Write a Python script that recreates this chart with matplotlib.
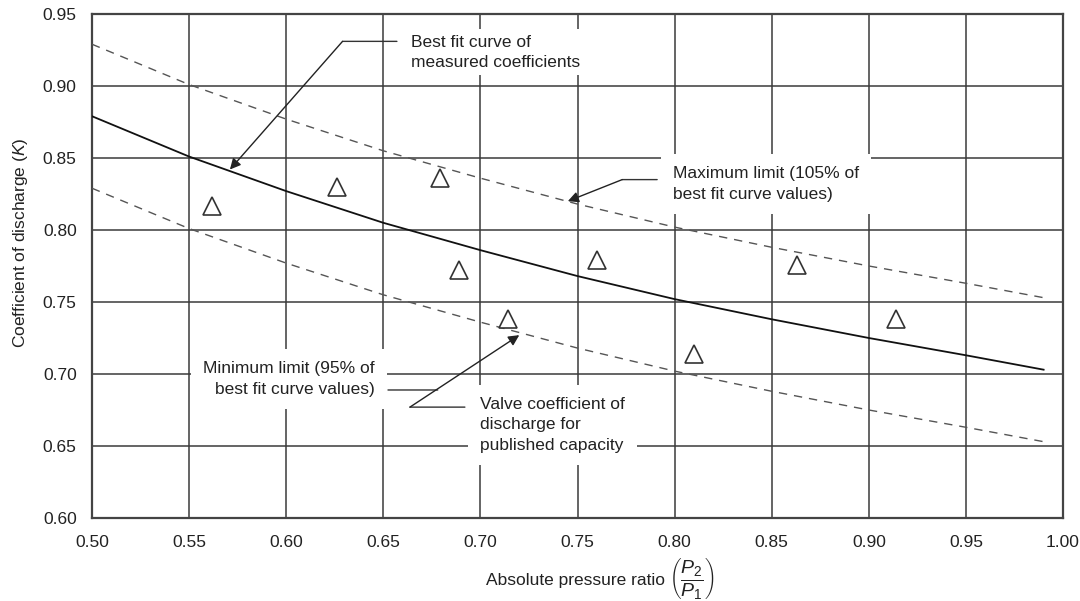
import matplotlib
matplotlib.use("Agg")
import matplotlib.pyplot as plt

plt.rcParams['font.family'] = ['Liberation Sans', 'DejaVu Sans']
plt.rcParams['mathtext.fontset'] = 'custom'
plt.rcParams['mathtext.rm'] = 'Liberation Sans'
plt.rcParams['mathtext.it'] = 'Liberation Sans:italic'

# ---- data ----
curve_x = [0.50, 0.55, 0.60, 0.65, 0.70, 0.75, 0.80, 0.85, 0.90, 0.95, 0.99]
best_fit = [0.879, 0.851, 0.827, 0.805, 0.786, 0.768, 0.752, 0.738, 0.725, 0.713, 0.703]
upper_limit = [0.929, 0.901, 0.877, 0.855, 0.836, 0.818, 0.802, 0.788, 0.775, 0.763, 0.753]
lower_limit = [0.829, 0.801, 0.777, 0.755, 0.736, 0.718, 0.702, 0.688, 0.675, 0.663, 0.653]

meas_x = [0.562, 0.626, 0.679, 0.689, 0.714, 0.760, 0.810, 0.863, 0.914]
meas_k = [0.817, 0.830, 0.836, 0.772, 0.738, 0.779, 0.714, 0.776, 0.738]

x_ticks = [0.50, 0.55, 0.60, 0.65, 0.70, 0.75, 0.80, 0.85, 0.90, 0.95, 1.00]
y_ticks = [0.60, 0.65, 0.70, 0.75, 0.80, 0.85, 0.90, 0.95]

GRID = '#3a3a3a'
TXT = '#222222'
fig = plt.figure(figsize=(10.8, 6.01), dpi=100)
ax = fig.add_axes([0.0852, 0.1381, 0.8991, 0.8386])
ax.set_xlim(0.50, 1.00)
ax.set_ylim(0.60, 0.95)
ax.set_xticks(x_ticks)
ax.set_yticks(y_ticks)
ax.set_xticklabels([f"{v:.2f}" for v in x_ticks])
ax.set_yticklabels([f"{v:.2f}" for v in y_ticks])
ax.tick_params(length=0, labelsize=12.5, colors=TXT, pad=11)
ax.tick_params(axis='x', pad=12)
ax.grid(True, color=GRID, lw=1.1, zorder=0)
ax.set_axisbelow(True)
for s in ax.spines.values():
    s.set_color('#444444')
    s.set_linewidth(1.6)

ax.plot(curve_x, best_fit, color='#111111', lw=1.3, zorder=3)
ax.plot(curve_x, upper_limit, color='#555555', lw=1.0, dashes=(6, 5), zorder=3)
ax.plot(curve_x, lower_limit, color='#555555', lw=1.0, dashes=(6, 5), zorder=3)
ax.plot(meas_x, meas_k, ls='none', marker='^', ms=12.5, mfc='white',
        mec='#333333', mew=1.2, zorder=4)

txt_kw = dict(fontsize=12.5, color=TXT, linespacing=1.45, zorder=2,
              bbox=dict(boxstyle='square,pad=0.7', fc='white', ec='none'))
line_kw = dict(arrowstyle='-', color='#333333', lw=1.0, shrinkA=0, shrinkB=0)
arr_kw = dict(arrowstyle='-|>', color='#222222', lw=1.0, mutation_scale=16,
              shrinkA=0, shrinkB=0)

# Best fit annotation
ax.text(0.664, 0.9234, "Best fit curve of\nmeasured coefficients", va='center',
        ha='left', **{**txt_kw, 'bbox': dict(boxstyle='square,pad=0.3', fc='white', ec='none')})
ax.annotate('', xy=(0.657, 0.931), xytext=(0.629, 0.931), arrowprops=line_kw, zorder=5)
ax.annotate('', xy=(0.571, 0.842), xytext=(0.629, 0.931), arrowprops=arr_kw, zorder=5)

# Maximum limit
ax.text(0.799, 0.832, "Maximum limit (105% of\nbest fit curve values)", va='center',
        ha='left', **txt_kw)
ax.annotate('', xy=(0.791, 0.835), xytext=(0.773, 0.835), arrowprops=line_kw, zorder=5)
ax.annotate('', xy=(0.745, 0.820), xytext=(0.773, 0.835), arrowprops=arr_kw, zorder=5)

# Minimum limit
ax.text(0.6457, 0.6965, "Minimum limit (95% of\nbest fit curve values)", va='center',
        ha='right', **txt_kw)
ax.annotate('', xy=(0.678, 0.6889), xytext=(0.6524, 0.6889), arrowprops=line_kw, zorder=5)

# Valve coefficient
ax.text(0.700, 0.6647, "Valve coefficient of\ndischarge for\npublished capacity", va='center',
        ha='left', **txt_kw)
ax.annotate('', xy=(0.692, 0.677), xytext=(0.6637, 0.677), arrowprops=line_kw, zorder=5)
ax.annotate('', xy=(0.720, 0.727), xytext=(0.6637, 0.677), arrowprops=arr_kw, zorder=5)

ax.set_ylabel(r"Coefficient of discharge ($\mathit{K}$)", fontsize=12.5, color=TXT)
ax.yaxis.set_label_coords(-0.064, 0.546)

ax.text(0.590, -0.133, "Absolute pressure ratio", ha='right', va='baseline',
        fontsize=12.5, color=TXT, transform=ax.transAxes)
ax.text(0.594, -0.121, r"$\left(\dfrac{P_2}{P_1}\right)$", ha='left', va='center',
        fontsize=14, color=TXT, transform=ax.transAxes)

fig.savefig("out.png", dpi=100, facecolor='white')
